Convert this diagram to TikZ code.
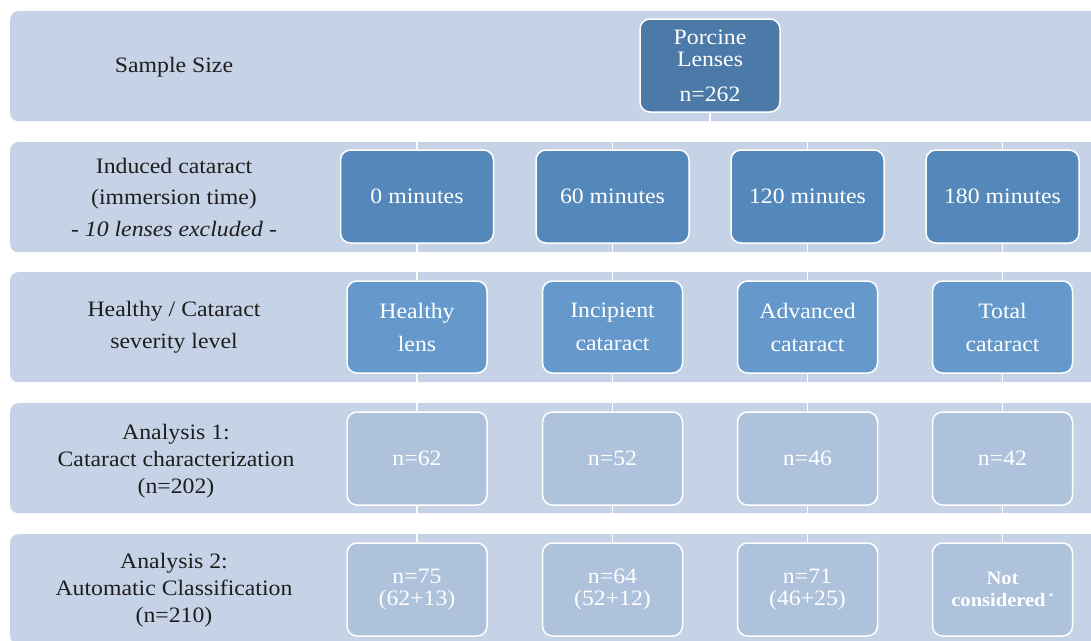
\documentclass[tikz,border=0pt]{standalone}
\usepackage{fontspec}
\setmainfont{Liberation Serif}[FakeStretch=1.08]
\definecolor{bandfill}{HTML}{C6D3E6}
\definecolor{topfill}{HTML}{4B79A8}
\definecolor{timefill}{HTML}{5588BA}
\definecolor{sevfill}{HTML}{6699CB}
\definecolor{countfill}{HTML}{AEC2DB}
\definecolor{labeltext}{HTML}{1E1E1E}
\pgfdeclarelayer{bands}
\pgfdeclarelayer{links}
\pgfsetlayers{bands,links,main}
\tikzset{
  band/.style={fill=bandfill, draw=none, rounded corners=8pt, anchor=north west,
    minimum width=1100pt, minimum height=110pt, inner sep=0pt},
  rowlabel/.style={text=labeltext, align=center, inner sep=0pt},
  box/.style={draw=white, line width=1.5pt, rounded corners=10pt, text=white,
    align=center, inner sep=0pt, minimum width=140pt, minimum height=93pt},
  topbox/.style={box, fill=topfill},
  timebox/.style={box, fill=timefill, minimum width=153pt},
  sevbox/.style={box, fill=sevfill, minimum height=92pt},
  countbox/.style={box, fill=countfill},
  link/.style={draw=white, line width=1.5pt},
}
\newcommand{\bigtxt}[1]{\fontsize{22}{#1}\selectfont}
\begin{document}
\begin{tikzpicture}[x=1pt, y=-1pt]
  \path[use as bounding box] (0,0) rectangle (1091,640);
  \clip (0,0) rectangle (1091,640);

  % horizontal bands, one per stage
  \begin{pgfonlayer}{bands}
    \node[band] (b1) at (10,11)  {};
    \node[band] (b2) at (10,142) {};
    \node[band] (b3) at (10,272) {};
    \node[band] (b4) at (10,403) {};
    \node[band] (b5) at (10,534) {};
  \end{pgfonlayer}

  % stage labels
  \node[rowlabel, font=\bigtxt{22}] (l1) at (174,67) {Sample Size};
  \node[rowlabel, font=\bigtxt{31.5}] (l2) at (174,197)
    {Induced cataract\\(immersion time)\\\textit{- 10 lenses excluded -}};
  \node[rowlabel, font=\bigtxt{32}] (l3) at (174,327) {Healthy / Cataract\\severity level};
  \node[rowlabel, font=\bigtxt{27}] (l4) at (176,461)
    {Analysis 1:\\Cataract characterization\\(n=202)};
  \node[rowlabel, font=\bigtxt{27}] (l5) at (174,590)
    {Analysis 2:\\Automatic Classification\\(n=210)};

  % sample
  \node[topbox, font=\bigtxt{22}] (por) at (710,65.5) {Porcine\\Lenses\\[13pt]n=262};
  \coordinate (split) at (710,131);

  % immersion times
  \node[timebox, font=\bigtxt{22}] (t0) at (417,196.5)   {0 minutes};
  \node[timebox, font=\bigtxt{22}] (t1) at (612.5,196.5) {60 minutes};
  \node[timebox, font=\bigtxt{22}] (t2) at (807.5,196.5) {120 minutes};
  \node[timebox, font=\bigtxt{22}] (t3) at (1002.5,196.5){180 minutes};

  % severity levels
  \node[sevbox, font=\bigtxt{33}] (s0) at (417,327)    {Healthy\\lens};
  \node[sevbox, font=\bigtxt{33}] (s1) at (612.5,327)  {Incipient\\cataract};
  \node[sevbox, font=\bigtxt{33}] (s2) at (807.5,327)  {Advanced\\cataract};
  \node[sevbox, font=\bigtxt{33}] (s3) at (1002.5,327) {Total\\cataract};

  % analysis 1 counts
  \node[countbox, font=\bigtxt{22}] (c0) at (417,458.5)    {n=62};
  \node[countbox, font=\bigtxt{22}] (c1) at (612.5,458.5)  {n=52};
  \node[countbox, font=\bigtxt{22}] (c2) at (807.5,458.5)  {n=46};
  \node[countbox, font=\bigtxt{22}] (c3) at (1002.5,458.5) {n=42};

  % analysis 2 counts
  \node[countbox, font=\bigtxt{22}] (a0) at (417,589.5)   {n=75\\(62+13)};
  \node[countbox, font=\bigtxt{22}] (a1) at (612.5,589.5) {n=64\\(52+12)};
  \node[countbox, font=\bigtxt{22}] (a2) at (807.5,589.5) {n=71\\(46+25)};
  \node[countbox, font={\fontsize{19}{22}\selectfont\bfseries}] (a3) at (1002.5,589.5)
    {Not\\considered\,{\fontsize{9}{9}\selectfont\raisebox{7pt}{*}}};

  % tree connectors
  \begin{pgfonlayer}{links}
    \draw[link] (por.south) -- (split) -| (t0.north);
    \draw[link] (split) -| (t1.north);
    \draw[link] (split) -| (t2.north);
    \draw[link] (split) -| (t3.north);
    \foreach \i in {0,1,2,3} {
      \draw[link] (t\i.south) -- (s\i.north);
      \draw[link] (s\i.south) -- (c\i.north);
      \draw[link] (c\i.south) -- (a\i.north);
    }
  \end{pgfonlayer}
\end{tikzpicture}
\end{document}
